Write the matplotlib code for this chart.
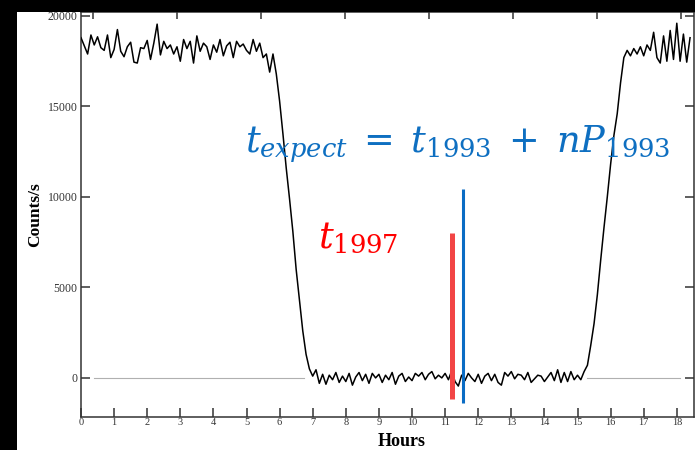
import numpy as np
import matplotlib
matplotlib.use("Agg")
import matplotlib.pyplot as plt
from matplotlib.patches import Rectangle

# ---------------- data ----------------
step = 0.1
counts = [
    # 0.0 - 0.9
    18800, 18350, 17900, 18950, 18400, 18850, 18250, 18100, 18950, 17700,
    # 1.0 - 1.9
    18150, 19250, 18050, 17750, 18300, 18550, 17450, 17400, 18250, 18200,
    # 2.0 - 2.9
    18650, 17600, 18500, 19550, 17850, 18600, 18200, 18400, 17900, 18300,
    # 3.0 - 3.9
    17500, 18700, 18200, 18600, 17400, 18900, 18050, 18500, 18300, 17600,
    # 4.0 - 4.9
    18400, 18000, 18700, 17800, 18350, 18550, 17700, 18600, 18300, 18450,
    # 5.0 - 5.9
    18100, 17900, 18700, 18050, 18500, 17700, 17900, 16900, 17900, 16800,
    # 6.0 - 6.9
    15300, 13500, 11600, 9900, 8100, 6000, 4300, 2600, 1300, 500,
    # 7.0 - 7.9
    100, 450, -300, 200, -350, 150, -100, 300, -250, 100,
    # 8.0 - 8.9
    -200, 250, -400, 50, 300, -150, 200, -300, 250, 0,
    # 9.0 - 9.9
    200, -250, 150, -100, 300, -350, 100, 250, -200, 50,
    # 10.0 - 10.9
    -150, 250, 100, 300, -100, 200, 350, -50, 150, 0,
    # 11.0 - 11.9
    250, -100, 400, -200, -450, 150, -150, 250, 0, -200,
    # 12.0 - 12.9
    200, -300, 100, 250, -150, 200, -250, -400, 300, 100,
    # 13.0 - 13.9
    350, -50, 200, 150, -100, 300, -250, -50, 150, 100,
    # 14.0 - 14.9
    -200, 50, 300, -150, 450, -250, 300, -200, 350, -100,
    # 15.0 - 15.9
    150, -100, 350, 700, 1800, 3000, 4600, 6500, 8300, 10000,
    # 16.0 - 16.9
    11800, 13400, 14600, 16300, 17700, 18100, 17800, 18200, 17900, 18300,
    # 17.0 - 17.9
    17800, 18400, 18100, 19100, 17700, 17400, 18900, 17500, 19200, 17600,
    # 18.0 - 18.4
    19600, 17500, 19000, 17450, 18800,
]
hours = np.arange(len(counts)) * step

x_ticks = list(range(0, 19))
y_ticks = [0, 5000, 10000, 15000, 20000]
top_ticks = [0.36, 2.9, 5.44, 7.98, 10.52, 13.06, 15.6, 18.14]

zero_segments = [(0.4, 6.75), (15.3, 18.1)]

t1997 = 11.2
t1997_range = (-1150, 8000)
t_expect = 11.55
t_expect_range = (-1380, 10440)

# ---------------- figure ----------------
W, H = 695, 450
plt.rcParams["mathtext.fontset"] = "dejavuserif"
fig = plt.figure(figsize=(W / 100, H / 100), dpi=100, facecolor="white")

# black borders of the screenshot
fig.patches.append(Rectangle((0, 0), 17 / W, 1, transform=fig.transFigure,
                             facecolor="black", edgecolor="none", zorder=0))
fig.patches.append(Rectangle((0, 1 - 12 / H), 1, 12 / H, transform=fig.transFigure,
                             facecolor="black", edgecolor="none", zorder=0))

ax = fig.add_axes([81 / W, 1 - 417 / H, (694 - 81) / W, (417 - 12) / H])
ax.set_facecolor("white")

for xs in zero_segments:
    ax.plot(xs, [0, 0], color="#b0b0b0", lw=0.8, zorder=1)

ax.plot(hours, counts, color="black", lw=1.1, zorder=3)

ax.vlines(t1997, *t1997_range, color="#f24545", lw=3.6, zorder=4)
ax.vlines(t_expect, *t_expect_range, color="#0a6cc4", lw=2.2, zorder=4)

ax.set_xlim(0, (694 - 81) / 33.1)
ax.set_ylim(-2160, 20221)

spine_c = "#333333"
for s in ax.spines.values():
    s.set_color(spine_c)
    s.set_linewidth(1.1)

ax.set_xticks(x_ticks)
ax.set_yticks(y_ticks)
ax.set_xticklabels([str(v) for v in x_ticks])
ax.set_yticklabels([str(v) for v in y_ticks])
ax.tick_params(axis="both", direction="in", length=6.5, width=1.1, color=spine_c,
               labelcolor="#333333")
ax.tick_params(axis="x", pad=1, labelsize=7.5)
ax.tick_params(axis="y", pad=2.5, right=True, labelsize=8.5)
for lab in ax.get_xticklabels() + ax.get_yticklabels():
    lab.set_family("Liberation Serif")

sec = ax.secondary_xaxis("top")
sec.set_xticks(top_ticks)
sec.set_xticklabels([])
sec.tick_params(direction="in", length=5, width=1.1, color=spine_c)
sec.spines["top"].set_visible(False)

fig.text(35 / W, 1 - 215 / H, "Counts/s", rotation=90, ha="center", va="center",
         family="Liberation Serif", fontweight="bold", fontsize=12.5, color="black")
fig.text(402 / W, 0.4 / H, "Hours", ha="center", va="bottom",
         family="Liberation Serif", fontweight="bold", fontsize=13, color="black")

fig.text(245 / W, 1 - 152 / H, r"$t_{expect}\;=\;t_{1993}\;+\;nP_{1993}$", ha="left",
         va="baseline", fontsize=26.5, color="#0e6fc1")
fig.text(318 / W, 1 - 248 / H, r"$t_{1997}$", ha="left", va="baseline",
         fontsize=26.5, color="#ff0000")

fig.savefig("out.png", dpi=100, facecolor="white")
